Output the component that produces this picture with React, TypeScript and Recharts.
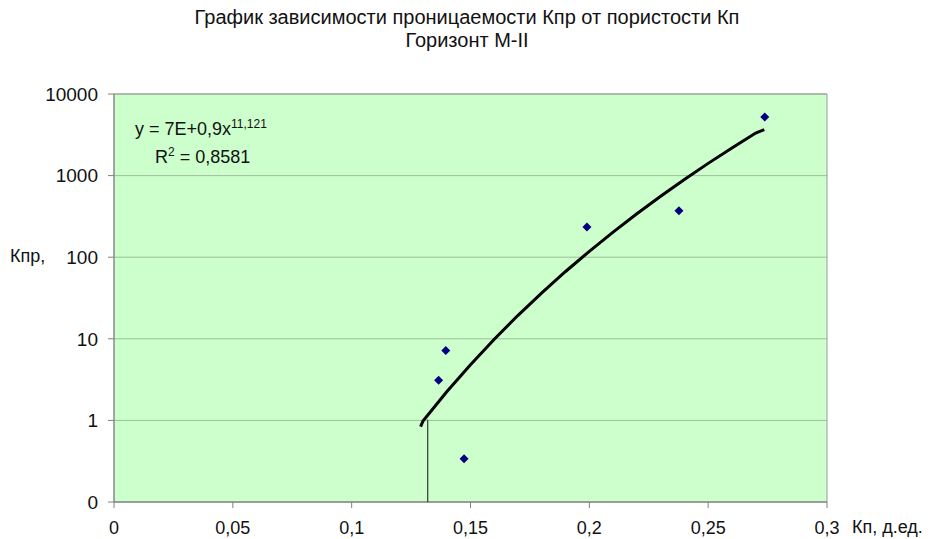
import {
  ScatterChart,
  Scatter,
  XAxis,
  YAxis,
  CartesianGrid,
  ReferenceArea,
} from "recharts";

// measured points: porosity (Кп, д.ед.) vs permeability (Кпр)
const porosity = [0.1366, 0.1396, 0.1473, 0.199, 0.2377, 0.2738];
const permeability = [3.1, 7.2, 0.34, 234, 371, 5220];

// power trendline as drawn in the picture
const trendX = [0.129, 0.13, 0.14, 0.15, 0.16, 0.17, 0.18, 0.19, 0.2, 0.21, 0.22, 0.23, 0.24, 0.25, 0.26, 0.27, 0.2736];
const trendY = [0.84, 0.98, 2.24, 4.81, 9.86, 19.4, 36.6, 66.8, 118, 203, 341, 559, 897, 1412, 2185, 3320, 3660];

// stray vertical segment under the trendline start
const dropX = [0.132, 0.132];
const dropY = [1.02, 0.1];

const xTicks = [0, 0.05, 0.1, 0.15, 0.2, 0.25, 0.3];
const yTicks = [0.1, 1, 10, 100, 1000, 10000];

const points = porosity.map((x, i) => ({ x, y: permeability[i] }));
const trend = trendX.map((x, i) => ({ x, y: trendY[i] }));
const drop = dropX.map((x, i) => ({ x, y: dropY[i] }));

const FONT = "'Liberation Sans', Arial, sans-serif";

const Diamond = (props: any) => {
  const { cx, cy } = props;
  if (cx == null || cy == null) return <g />;
  const r = 4.5;
  return <polygon points={`${cx},${cy - r} ${cx + r},${cy} ${cx},${cy + r} ${cx - r},${cy}`} fill="#000080" />;
};

const NoShape = () => <g />;

export default function App() {
  return (
    <div style={{ position: "absolute", left: 0, top: 0, width: 935, height: 539, background: "#fff", fontFamily: FONT }}>
      <div style={{ position: "absolute", left: 0, top: 6, width: 934, textAlign: "center", fontSize: 20, lineHeight: "23px", color: "#111" }}>
        График зависимости проницаемости Кпр от пористости Кп
        <br />
        Горизонт М-II
      </div>
      <ScatterChart width={935} height={539} margin={{ top: 94, right: 108, bottom: 7, left: 44 }}>
        <CartesianGrid horizontal vertical={false} fill="#ccffcc" fillOpacity={1} stroke="#9cbf9c" />
        <XAxis
          type="number"
          dataKey="x"
          domain={[0, 0.3]}
          ticks={xTicks}
          height={30}
          tickSize={6}
          tickMargin={13}
          interval={0}
          tickFormatter={(v: number) => String(v).replace(".", ",")}
          stroke="#808080"
          tick={{ fill: "#111", fontSize: 18, fontFamily: FONT }}
          allowDataOverflow
        />
        <YAxis
          type="number"
          dataKey="y"
          scale="log"
          domain={[0.1, 10000]}
          ticks={yTicks}
          width={70}
          tickSize={6}
          tickMargin={10}
          interval={0}
          tickFormatter={(v: number) => (v < 1 ? "0" : String(v))}
          stroke="#808080"
          tick={{ fill: "#111", fontSize: 19, fontFamily: FONT }}
          allowDataOverflow
        />
        <ReferenceArea x1={0} x2={0.3} y1={0.1} y2={10000} fill="none" stroke="#9a9a9a" strokeWidth={1} ifOverflow="visible" />
        <Scatter data={drop} line={{ stroke: "#333", strokeWidth: 1.2 }} shape={NoShape} isAnimationActive={false} />
        <Scatter data={trend} line={{ stroke: "#000", strokeWidth: 3 }} shape={NoShape} isAnimationActive={false} />
        <Scatter data={points} shape={Diamond} isAnimationActive={false} />
      </ScatterChart>
      <div style={{ position: "absolute", left: 135, top: 117, fontSize: 18, color: "#111", whiteSpace: "nowrap" }}>
        y = 7E+0,9x<sup style={{ fontSize: 12 }}>11,121</sup>
      </div>
      <div style={{ position: "absolute", left: 155, top: 145, fontSize: 18, color: "#111", whiteSpace: "nowrap" }}>
        R<sup style={{ fontSize: 12 }}>2</sup> = 0,8581
      </div>
      <div style={{ position: "absolute", left: 10, top: 246, fontSize: 18, color: "#111" }}>Кпр,</div>
      <div style={{ position: "absolute", left: 852, top: 517, fontSize: 18, color: "#111", whiteSpace: "nowrap" }}>Кп, д.ед.</div>
    </div>
  );
}
